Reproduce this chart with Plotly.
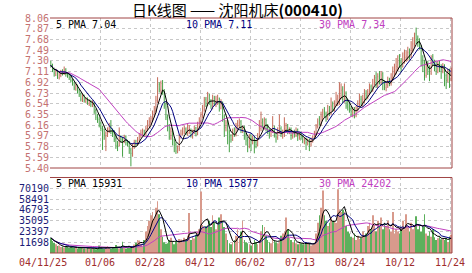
import plotly.graph_objects as go
import pandas as pd

# ---------------- data ----------------
date_labels = ["04/11/25", "01/06", "02/28", "04/12", "06/02", "07/13", "08/24", "10/12", "11/24"]
date_label_idx = [0, 30, 60, 90, 120, 150, 180, 210, 240]

price_ticks = ["8.06", "7.87", "7.68", "7.49", "7.30", "7.11", "6.92", "6.73",
               "6.54", "6.35", "6.16", "5.97", "5.78", "5.59", "5.40"]
vol_ticks = ["70190", "58491", "46793", "35095", "23397", "11698"]
vol_tick_vals = [70190, 58491, 46793, 35095, 23397, 11698]

price_legend = ["5 PMA 7.04", "10 PMA 7.11", "30 PMA 7.34"]
vol_legend = ["5 PMA 15931", "10 PMA 15877", "30 PMA 24202"]
title_text = "日K线图 —— 沈阳机床<b>(000410)</b>"

opens = [
    7.28, 7.22, 7.15, 7.05, 7.12, 7.00, 7.04, 7.12, 7.07, 7.15,
    7.07, 7.05, 7.01, 6.96, 6.91, 6.80, 6.86, 6.77, 6.71, 6.60,
    6.67, 6.58, 6.63, 6.54, 6.59, 6.50, 6.55, 6.42, 6.32, 6.26,
    6.19, 6.12, 6.08, 5.96, 6.01, 6.06, 6.14, 6.06, 6.04, 5.92,
    5.82, 5.80, 5.94, 5.92, 5.86, 5.96, 5.87, 5.85, 5.72, 5.63,
    5.78, 5.86, 5.83, 5.90, 5.97, 6.01, 6.06, 6.00, 6.09, 6.17,
    6.20, 6.27, 6.34, 6.42, 6.58, 6.88, 6.78, 6.92, 6.76, 6.52,
    6.32, 6.12, 5.93, 6.06, 5.88, 5.82, 5.68, 5.74, 5.96, 6.02,
    6.04, 6.09, 6.00, 6.03, 6.07, 5.97, 6.04, 6.11, 6.00, 6.16,
    6.22, 6.33, 6.44, 6.62, 6.54, 6.69, 6.60, 6.48, 6.64, 6.53,
    6.58, 6.63, 6.46, 6.56, 6.32, 6.12, 6.22, 6.04, 5.97, 5.92,
    6.07, 5.98, 6.12, 6.16, 6.22, 6.06, 6.12, 5.97, 5.90, 5.78,
    5.97, 5.88, 5.94, 5.86, 5.80, 5.97, 6.10, 6.22, 6.13, 6.26,
    6.12, 6.06, 5.98, 6.04, 6.12, 5.97, 5.94, 6.04, 6.10, 5.98,
    6.00, 6.08, 6.16, 6.03, 6.09, 5.96, 6.04, 5.98, 6.08, 5.94,
    6.02, 5.96, 5.87, 5.92, 5.84, 5.90, 5.81, 5.88, 5.94, 6.00,
    6.14, 6.24, 6.18, 6.30, 6.40, 6.36, 6.28, 6.42, 6.36, 6.52,
    6.44, 6.53, 6.54, 6.56, 6.68, 6.80, 6.60, 6.74, 6.52, 6.50,
    6.46, 6.38, 6.44, 6.33, 6.44, 6.50, 6.62, 6.53, 6.60, 6.72,
    6.66, 6.74, 6.84, 6.78, 6.90, 7.00, 6.86, 7.04, 6.92, 7.08,
    6.92, 6.83, 6.86, 6.97, 6.90, 6.98, 7.08, 7.12, 7.18, 7.30,
    7.26, 7.20, 7.30, 7.36, 7.36, 7.46, 7.38, 7.50, 7.58, 7.78,
    7.70, 7.64, 7.56, 7.32, 7.30, 7.04, 7.25, 7.16, 7.08, 7.38,
    7.28, 7.22, 7.10, 7.26, 7.20, 7.12, 7.20, 7.04, 6.96, 7.14, 6.98,
]
highs = [
    7.30, 7.25, 7.18, 7.16, 7.14, 7.09, 7.14, 7.15, 7.20, 7.17,
    7.10, 7.08, 7.03, 6.99, 6.93, 6.90, 6.88, 6.80, 6.74, 6.72,
    6.70, 6.66, 6.65, 6.62, 6.61, 6.60, 6.57, 6.45, 6.36, 6.30,
    6.22, 6.15, 6.10, 6.05, 6.12, 6.20, 6.25, 6.10, 6.07, 5.98,
    5.88, 6.12, 5.98, 5.95, 5.99, 5.98, 5.90, 5.88, 5.76, 5.84,
    5.90, 5.90, 5.95, 6.02, 6.08, 6.10, 6.08, 6.15, 6.25, 6.30,
    6.32, 6.42, 6.50, 6.68, 7.01, 6.92, 6.95, 6.96, 6.80, 6.56,
    6.35, 6.18, 6.12, 6.10, 5.92, 5.86, 5.80, 6.00, 6.08, 6.12,
    6.15, 6.12, 6.18, 6.16, 6.10, 6.08, 6.15, 6.13, 6.22, 6.30,
    6.40, 6.52, 6.66, 6.66, 6.75, 6.72, 6.62, 6.70, 6.68, 6.68,
    6.70, 6.65, 6.62, 6.58, 6.35, 6.25, 6.25, 6.08, 6.00, 6.10,
    6.12, 6.20, 6.25, 6.28, 6.25, 6.15, 6.15, 6.02, 5.95, 6.00,
    6.00, 5.98, 5.96, 5.90, 6.02, 6.25, 6.40, 6.28, 6.30, 6.28,
    6.18, 6.10, 6.10, 6.32, 6.15, 6.02, 6.12, 6.35, 6.14, 6.08,
    6.30, 6.20, 6.18, 6.12, 6.12, 6.06, 6.08, 6.12, 6.10, 6.04,
    6.05, 5.98, 5.95, 5.94, 5.92, 5.92, 5.94, 5.98, 6.06, 6.18,
    6.28, 6.32, 6.40, 6.45, 6.48, 6.40, 6.52, 6.50, 6.65, 6.58,
    6.60, 6.75, 6.70, 6.92, 6.90, 6.85, 6.90, 6.76, 6.62, 6.55,
    6.50, 6.48, 6.48, 6.50, 6.60, 6.72, 6.68, 6.70, 6.80, 6.78,
    6.80, 6.90, 6.88, 6.98, 7.05, 7.10, 7.08, 7.12, 7.12, 7.10,
    6.95, 6.92, 7.02, 7.00, 7.08, 7.20, 7.25, 7.35, 7.40, 7.42,
    7.35, 7.45, 7.50, 7.48, 7.55, 7.52, 7.65, 7.72, 7.80, 7.89,
    7.75, 7.70, 7.58, 7.40, 7.32, 7.28, 7.30, 7.22, 7.40, 7.42,
    7.32, 7.28, 7.30, 7.30, 7.24, 7.26, 7.24, 7.08, 7.16, 7.16, 7.18,
]
lows = [
    7.18, 7.10, 7.02, 7.03, 6.98, 6.97, 7.01, 7.04, 7.05, 7.02,
    7.00, 6.96, 6.92, 6.86, 6.78, 6.77, 6.72, 6.66, 6.58, 6.57,
    6.56, 6.55, 6.52, 6.50, 6.48, 6.48, 6.36, 6.25, 6.20, 6.12,
    6.05, 5.72, 5.90, 5.70, 5.95, 6.02, 6.00, 5.95, 5.86, 5.74,
    5.70, 5.78, 5.85, 5.60, 5.84, 5.80, 5.78, 5.65, 5.43, 5.60,
    5.74, 5.78, 5.80, 5.87, 5.93, 5.96, 5.95, 5.97, 6.05, 6.12,
    6.15, 6.22, 6.30, 6.38, 6.55, 6.74, 6.72, 6.70, 6.45, 6.25,
    6.05, 5.90, 5.90, 5.80, 5.68, 5.65, 5.66, 5.70, 5.92, 5.98,
    6.00, 5.98, 5.97, 6.00, 5.94, 5.92, 6.00, 5.96, 5.98, 6.12,
    6.18, 6.28, 6.40, 6.48, 6.50, 6.52, 6.45, 6.44, 6.50, 6.48,
    6.52, 6.40, 6.44, 6.22, 5.95, 6.05, 5.82, 5.68, 5.85, 5.88,
    5.95, 5.96, 6.08, 6.12, 6.02, 6.02, 5.90, 5.80, 5.68, 5.75,
    5.70, 5.82, 5.66, 5.75, 5.78, 5.95, 6.05, 6.10, 6.08, 6.05,
    6.00, 5.92, 5.95, 6.02, 5.94, 5.85, 5.90, 6.00, 5.95, 5.92,
    5.95, 6.04, 6.00, 6.00, 5.90, 5.92, 5.94, 5.95, 5.88, 5.90,
    5.90, 5.84, 5.82, 5.72, 5.80, 5.70, 5.78, 5.85, 5.92, 5.98,
    6.10, 6.15, 6.15, 6.25, 6.30, 6.22, 6.25, 6.32, 6.34, 6.40,
    6.40, 6.50, 6.50, 6.52, 6.62, 6.55, 6.56, 6.45, 6.42, 6.38,
    6.32, 6.30, 6.28, 6.30, 6.40, 6.48, 6.50, 6.48, 6.55, 6.60,
    6.62, 6.70, 6.74, 6.75, 6.86, 6.82, 6.82, 6.88, 6.88, 6.78,
    6.78, 6.76, 6.82, 6.85, 6.86, 6.94, 7.02, 7.06, 7.12, 7.18,
    7.10, 7.18, 7.25, 7.28, 7.30, 7.32, 7.35, 7.45, 7.55, 7.60,
    7.55, 7.50, 7.20, 7.10, 6.95, 7.00, 7.05, 6.94, 7.05, 7.22,
    7.12, 7.05, 7.08, 7.10, 6.98, 7.08, 6.85, 6.80, 6.92, 6.82, 6.94,
]
closes = [
    7.22, 7.15, 7.08, 7.12, 7.02, 7.05, 7.10, 7.08, 7.14, 7.06,
    7.04, 7.00, 6.95, 6.90, 6.82, 6.85, 6.76, 6.70, 6.62, 6.66,
    6.60, 6.62, 6.55, 6.58, 6.52, 6.56, 6.40, 6.30, 6.25, 6.18,
    6.10, 6.05, 6.00, 6.02, 6.08, 6.12, 6.05, 6.02, 5.90, 5.80,
    5.78, 5.92, 5.90, 5.88, 5.95, 5.85, 5.84, 5.75, 5.66, 5.80,
    5.85, 5.82, 5.90, 5.98, 6.02, 6.05, 6.00, 6.10, 6.18, 6.22,
    6.28, 6.36, 6.45, 6.60, 6.85, 6.80, 6.90, 6.75, 6.50, 6.30,
    6.10, 5.95, 6.05, 5.85, 5.80, 5.70, 5.75, 5.95, 6.00, 6.05,
    6.10, 6.02, 6.12, 6.08, 5.98, 6.05, 6.10, 6.00, 6.18, 6.22,
    6.35, 6.45, 6.60, 6.55, 6.70, 6.58, 6.50, 6.62, 6.55, 6.60,
    6.62, 6.48, 6.58, 6.30, 6.15, 6.20, 6.02, 5.95, 5.90, 6.05,
    6.00, 6.15, 6.18, 6.20, 6.08, 6.10, 5.95, 5.88, 5.80, 5.95,
    5.90, 5.92, 5.85, 5.82, 5.98, 6.12, 6.20, 6.15, 6.25, 6.10,
    6.05, 6.00, 6.05, 6.10, 5.98, 5.95, 6.05, 6.08, 6.00, 6.02,
    6.10, 6.15, 6.05, 6.08, 5.98, 6.02, 6.00, 6.06, 5.96, 6.00,
    5.95, 5.88, 5.90, 5.85, 5.88, 5.82, 5.90, 5.95, 6.02, 6.15,
    6.22, 6.20, 6.32, 6.38, 6.35, 6.30, 6.40, 6.38, 6.50, 6.45,
    6.55, 6.62, 6.58, 6.70, 6.78, 6.62, 6.72, 6.50, 6.48, 6.45,
    6.40, 6.42, 6.35, 6.45, 6.52, 6.60, 6.55, 6.62, 6.70, 6.68,
    6.75, 6.82, 6.80, 6.92, 6.98, 6.88, 7.02, 6.95, 7.05, 6.90,
    6.85, 6.88, 6.95, 6.92, 7.00, 7.10, 7.15, 7.20, 7.28, 7.25,
    7.22, 7.32, 7.35, 7.38, 7.45, 7.40, 7.52, 7.60, 7.75, 7.68,
    7.62, 7.55, 7.30, 7.28, 7.05, 7.22, 7.15, 7.10, 7.35, 7.30,
    7.20, 7.12, 7.25, 7.18, 7.15, 7.21, 7.02, 6.95, 7.12, 6.98, 7.12,
]
volumes = [
    16400, 12900, 11100, 9400, 7600, 8200, 6400, 7000, 5900, 7600,
    6400, 5600, 7000, 6100, 5300, 6800, 4900, 5900, 5400, 6400,
    4900, 4400, 6100, 5300, 4200, 5600, 4700, 4100, 4900, 8000,
    6400, 4900, 4400, 5900, 7300, 5300, 4600, 5400, 6100, 8800,
    6800, 5000, 5900, 12300, 5600, 4900, 6400, 7600, 5900, 5400,
    9100, 11100, 14000, 13500, 9900, 7000, 14000, 23400, 29300, 35100,
    41000, 44500, 37400, 49100, 56200, 42100, 25700, 17600, 11700, 9900,
    10500, 14000, 16400, 12300, 9400, 12900, 10500, 15200, 14600, 11700,
    16400, 13500, 18700, 43300, 14000, 17600, 15800, 19900, 23400, 25700,
    66700, 30400, 28100, 29300, 30400, 35100, 28100, 41000, 32800, 25700,
    30400, 38600, 42100, 35100, 28100, 21100, 14000, 10500, 9400, 11700,
    14000, 18700, 25700, 16400, 23400, 35100, 14000, 11700, 10500, 9400,
    8200, 10500, 14000, 11700, 9400, 14000, 23400, 30400, 28100, 18700,
    14000, 11700, 10500, 16400, 14000, 11700, 10500, 12900, 18700, 21100,
    23400, 38600, 25700, 16400, 14000, 11700, 14000, 10500, 9400, 11700,
    10500, 9400, 8800, 11700, 9900, 10500, 8200, 9400, 11100, 21100,
    32800, 41000, 49100, 67900, 41000, 35100, 29300, 32800, 38600, 35100,
    35100, 32800, 69000, 46800, 44500, 46800, 44500, 29300, 23400, 21100,
    17600, 16400, 21100, 14000, 18700, 15200, 16400, 23400, 18700, 21100,
    29300, 32800, 25700, 41000, 30400, 23400, 35100, 28100, 38600, 25700,
    32800, 29300, 35100, 25700, 23400, 44500, 21100, 25700, 23400, 21100,
    28100, 35100, 25700, 42100, 29300, 23400, 32800, 25700, 30400, 39800,
    25700, 29300, 23400, 28100, 42100, 21100, 18700, 23400, 17600, 25700,
    17000, 14000, 16000, 18000, 15000, 16115, 14000, 16000, 12000, 18000, 19655,
]

# ---------------- styling ----------------
RED = "#c46a58"
GREEN = "#45a045"
VRED = "#d89a8c"
VGREEN = "#5cb05c"
MA_COLORS = ["#000000", "#000080", "#c040c0"]
BORDER = "#a04444"
GRID = "#c8c8c8"
MONO = "DejaVu Sans Mono"

n = len(closes)
idx = list(range(n))
cs = pd.Series(closes)
vs = pd.Series(volumes)
windows = [5, 10, 30]
price_ma = [cs.rolling(w, min_periods=1).mean() for w in windows]
vol_ma = [vs.rolling(w, min_periods=1).mean() for w in windows]
vbar_colors = [VRED if c >= o else VGREEN for o, c in zip(opens, closes)]

# panel geometry (paper fractions)
P_BOT, P_TOP = 0.3617, 1.0
V_BOT, V_TOP = 0.0, 0.3213

fig = go.Figure()
fig.add_trace(go.Ohlc(
    x=idx, open=opens, high=highs, low=lows, close=closes,
    xaxis="x", yaxis="y", tickwidth=0.2,
    increasing=dict(line=dict(color=RED, width=1)),
    decreasing=dict(line=dict(color=GREEN, width=1)),
    showlegend=False, hoverinfo="skip"))
for ma, col in zip(price_ma[::-1], MA_COLORS[::-1]):
    fig.add_trace(go.Scatter(x=idx, y=ma, mode="lines", xaxis="x", yaxis="y",
                             line=dict(color=col, width=1), showlegend=False,
                             hoverinfo="skip"))
fig.add_trace(go.Bar(x=idx, y=volumes, marker=dict(color=vbar_colors, line=dict(width=0)),
                     width=0.38, xaxis="x2", yaxis="y2", showlegend=False,
                     hoverinfo="skip"))
for ma, col in zip(vol_ma[::-1], MA_COLORS[::-1]):
    fig.add_trace(go.Scatter(x=idx, y=ma, mode="lines", xaxis="x2", yaxis="y2",
                             line=dict(color=col, width=1), showlegend=False,
                             hoverinfo="skip"))

grid_vals = [i - 0.5 for i in date_label_idx]
xcommon = dict(range=[-0.5, n - 0.5], tickvals=grid_vals, showticklabels=False,
               showgrid=True, gridcolor=GRID, griddash="dot", gridwidth=1,
               zeroline=False, showline=False, ticks="", fixedrange=True)

fig.update_layout(
    width=472, height=273,
    margin=dict(l=50, r=20, t=18, b=20),
    paper_bgcolor="white", plot_bgcolor="white",
    showlegend=False,
    xaxis=dict(domain=[0, 1], anchor="y", rangeslider=dict(visible=False), **xcommon),
    xaxis2=dict(domain=[0, 1], anchor="y2", **xcommon),
    yaxis=dict(domain=[P_BOT, P_TOP], range=[5.40, 8.06],
               tickvals=[float(t) for t in price_ticks], ticktext=price_ticks,
               tickfont=dict(family=MONO, size=10, color="#c47272"),
               showgrid=True, gridcolor=GRID, griddash="dot", zeroline=False,
               showline=False, ticks=""),
    yaxis2=dict(domain=[V_BOT, V_TOP], range=[0, 81888],
                tickvals=vol_tick_vals, ticktext=vol_ticks,
                tickfont=dict(family=MONO, size=10, color="#1c1c78"),
                showgrid=True, gridcolor=GRID, griddash="dot", zeroline=False,
                showline=False, ticks=""),
)

# panel borders (top, right, bottom)
for b, t in [(P_BOT, P_TOP), (V_BOT, V_TOP)]:
    for x0, y0, x1, y1 in [(0, t, 1, t), (1, b, 1, t), (0, b, 1, b)]:
        fig.add_shape(type="line", xref="paper", yref="paper",
                      x0=x0, y0=y0, x1=x1, y1=y1,
                      line=dict(color=BORDER, width=1))

PLOT_W, PLOT_H = 402.0, 235.0
def px_x(px):
    return (px - 50) / PLOT_W
def px_y(py):
    return (253 - py) / PLOT_H

# title
fig.add_annotation(text=title_text, xref="paper", yref="paper",
                   x=px_x(237), y=px_y(9.5), xanchor="center", yanchor="middle",
                   showarrow=False,
                   font=dict(family="Noto Sans CJK SC", size=15, color="black"))

# legend texts
leg_x = [54, 184, 317]
for txt, lx, col in zip(price_legend, leg_x, MA_COLORS):
    fig.add_annotation(text=txt, xref="paper", yref="paper", x=px_x(lx), y=px_y(24),
                       xanchor="left", yanchor="middle", showarrow=False,
                       font=dict(family=MONO, size=10, color=col))
for txt, lx, col in zip(vol_legend, leg_x, MA_COLORS):
    fig.add_annotation(text=txt, xref="paper", yref="paper", x=px_x(lx), y=px_y(183.5),
                       xanchor="left", yanchor="middle", showarrow=False,
                       font=dict(family=MONO, size=10, color=col))

# date labels
for k, (lbl, di) in enumerate(zip(date_labels, date_label_idx)):
    fig.add_annotation(text=lbl, xref="x2", yref="paper", x=di - 0.5, y=px_y(262),
                       xanchor="center", yanchor="middle", showarrow=False,
                       xshift=-7 if k == 0 else 0,
                       font=dict(family=MONO, size=10, color="#a02c2c"))

fig.write_html("out.html")
